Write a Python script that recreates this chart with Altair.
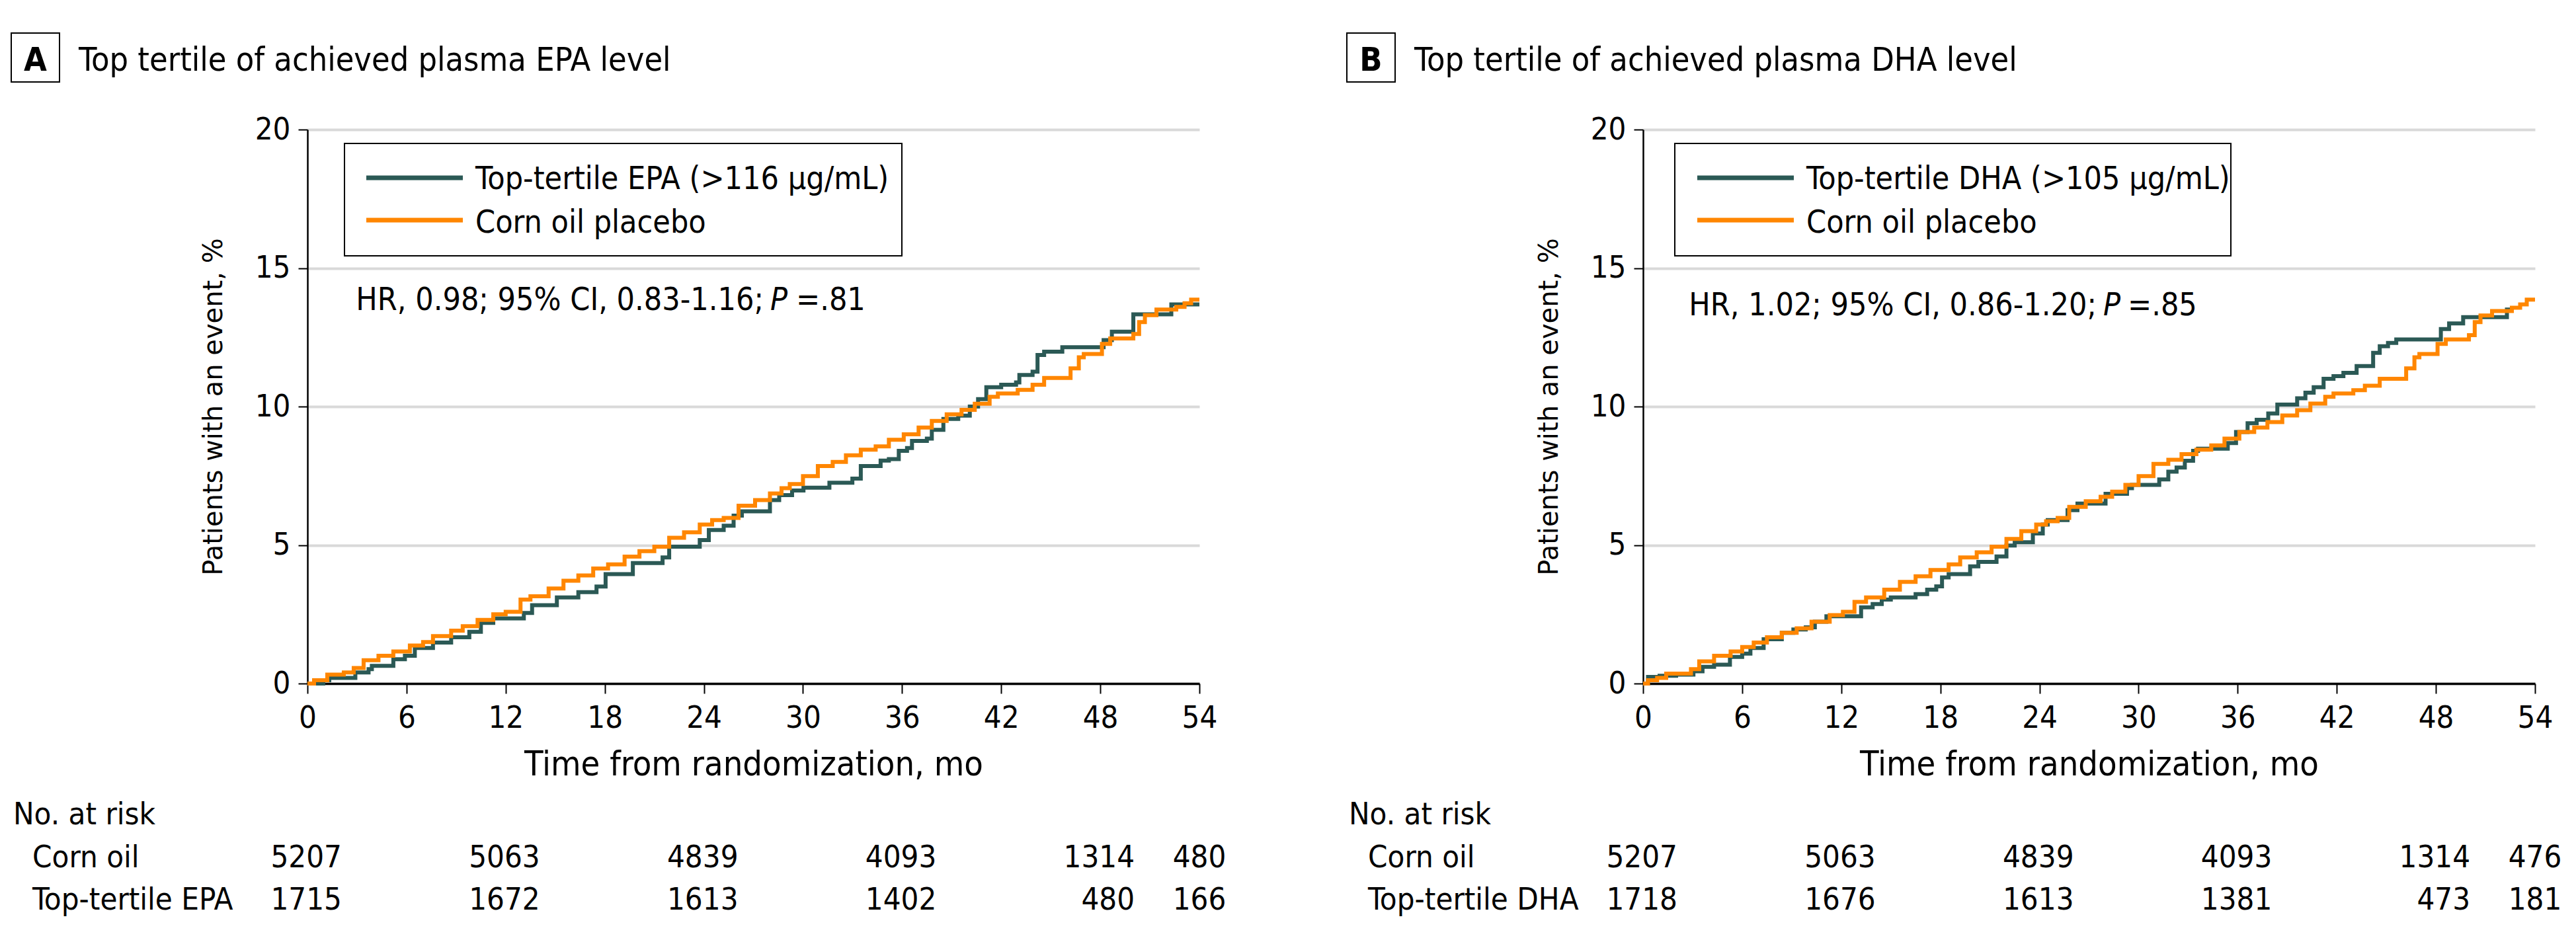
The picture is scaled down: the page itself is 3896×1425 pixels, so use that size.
import altair as alt
import pandas as pd

FONT = "DejaVu Sans Condensed, Liberation Sans Narrow, sans-serif"
YFONT = "DejaVu Sans"
TEAL = "#2B5955"
ORANGE = "#FF8600"
GRID = "#D9D9D9"

X_TICKS = [0, 6, 12, 18, 24, 30, 36, 42, 48, 54]
Y_TICKS = [0, 5, 10, 15, 20]
RISK_MONTHS = [0, 12, 24, 36, 48, 54]

# ---- Panel A: top-tertile EPA vs corn oil ----
TOP_A_MONTH = [0, 0.96, 1.32, 2.9, 3.7, 3.9, 5.2, 5.9, 6.5, 7.6, 8.7, 9.8, 10.5, 11.25, 13.1, 13.6,
               15.1, 16.4, 17.5, 18.05, 19.7, 21.5, 21.9, 23.75, 24.3, 25.2, 25.8, 26.3, 28.0, 28.56,
               29.34, 30.03, 31.6, 32.99, 33.5, 34.7, 35.2, 35.8, 36.3, 36.6, 37.5, 37.8, 38.5, 39.4,
               40.1, 40.6, 41.1, 42.0, 42.9, 43.1, 43.9, 44.2, 44.6, 45.7, 48.2, 48.7, 50.0, 52.3, 54.0]
TOP_A_PCT = [0, 0.12, 0.2, 0.4, 0.52, 0.64, 0.88, 1.0, 1.28, 1.48, 1.67, 1.87, 2.19, 2.35, 2.55, 2.83,
             3.11, 3.3, 3.5, 3.95, 4.35, 4.55, 4.94, 5.18, 5.54, 5.7, 6.06, 6.22, 6.62, 6.8,
             6.97, 7.07, 7.25, 7.4, 7.85, 8.05, 8.1, 8.4, 8.5, 8.76, 8.84, 9.16, 9.55, 9.67,
             10.0, 10.27, 10.7, 10.79, 10.87, 11.14, 11.26, 11.86, 11.98, 12.14, 12.4, 12.7, 13.33, 13.69, 13.69]

CORN_A_MONTH = [0, 0.4, 1.2, 2.2, 2.8, 3.4, 4.3, 5.2, 6.2, 7.0, 7.6, 8.7, 9.4, 10.3, 11.25, 12.0,
                12.9, 13.5, 14.6, 15.5, 16.4, 17.3, 18.2, 19.2, 20.1, 21.0, 21.9, 22.8, 23.75, 24.5,
                25.2, 26.1, 27.1, 28.0, 28.7, 29.2, 30.0, 30.9, 31.8, 32.6, 33.5, 34.4, 35.2, 36.1,
                37.0, 37.8, 38.7, 39.6, 40.4, 41.3, 41.8, 43.0, 43.9, 44.6, 46.2, 46.7, 47.0, 48.1,
                48.6, 50.0, 50.35, 50.7, 51.4, 52.6, 53.1, 53.5, 54.0]
CORN_A_PCT = [0, 0.12, 0.32, 0.4, 0.56, 0.84, 1.0, 1.16, 1.37, 1.5, 1.71, 1.91, 2.07, 2.3, 2.5, 2.59,
              3.03, 3.15, 3.43, 3.71, 3.9, 4.15, 4.3, 4.58, 4.78, 4.94, 5.26, 5.46, 5.74, 5.9,
              5.98, 6.42, 6.62, 6.86, 7.05, 7.2, 7.49, 7.85, 8.0, 8.24, 8.44, 8.56, 8.8, 9.0,
              9.24, 9.48, 9.72, 9.88, 10.1, 10.35, 10.47, 10.6, 10.79, 11.03, 11.38, 11.78, 11.9, 12.26,
              12.46, 12.62, 13.05, 13.3, 13.5, 13.6, 13.73, 13.86, 13.86]

RISK_A_CORN = [5207, 5063, 4839, 4093, 1314, 480]
RISK_A_TOP = [1715, 1672, 1613, 1402, 480, 166]

# ---- Panel B: top-tertile DHA vs corn oil ----
TOP_B_MONTH = [0, 0.3, 1.0, 2.0, 3.05, 3.6, 4.3, 5.26, 6.0, 6.5, 7.3, 8.4, 9.1, 9.85, 10.4, 11.1,
               13.2, 13.9, 14.45, 15.0, 16.5, 17.2, 17.75, 18.1, 18.5, 19.8, 20.3, 21.4, 22.0, 22.5,
               23.6, 24.2, 24.5, 25.7, 26.3, 28.0, 29.3, 29.6, 31.25, 31.8, 32.3, 32.8, 33.3, 33.6,
               35.4, 35.9, 36.6, 37.15, 37.85, 38.4, 39.6, 40.1, 40.6, 41.2, 41.8, 42.4, 43.2, 44.2,
               44.6, 45.1, 45.6, 48.3, 48.8, 49.65, 52.3, 52.5]
TOP_B_PCT = [0, 0.24, 0.28, 0.32, 0.44, 0.6, 0.68, 0.96, 1.08, 1.28, 1.6, 1.83, 1.95, 2.03, 2.23, 2.43,
             2.75, 2.87, 3.03, 3.11, 3.23, 3.39, 3.51, 3.83, 3.95, 4.23, 4.39, 4.59, 4.98, 5.1,
             5.42, 5.74, 5.9, 6.26, 6.5, 6.85, 7.05, 7.17, 7.37, 7.65, 7.8, 8.04, 8.4, 8.48,
             8.68, 9.08, 9.4, 9.52, 9.75, 10.07, 10.3, 10.5, 10.7, 11.0, 11.1, 11.22, 11.46, 11.94,
             12.18, 12.3, 12.42, 12.8, 13.0, 13.23, 13.5, 13.5]

CORN_B_MONTH = [0, 0.3, 0.85, 1.4, 2.9, 3.4, 4.3, 5.3, 6.0, 6.7, 7.5, 8.4, 9.3, 10.2, 11.3, 12.1,
                12.8, 13.5, 14.6, 15.55, 16.5, 17.4, 18.5, 19.2, 20.2, 21.1, 22.0, 22.9, 23.8, 24.4,
                25.1, 25.8, 26.8, 27.7, 28.4, 29.2, 30.0, 30.9, 31.8, 32.6, 33.5, 34.4, 35.2, 36.1,
                37.0, 37.8, 38.7, 39.6, 40.4, 41.3, 41.8, 43.0, 43.7, 44.6, 46.2, 46.7, 47.0, 48.1,
                48.6, 50.0, 50.35, 50.7, 51.4, 52.6, 53.1, 53.5, 54.0]
CORN_B_PCT = [0, 0.12, 0.2, 0.36, 0.52, 0.8, 1.0, 1.16, 1.32, 1.48, 1.67, 1.83, 1.99, 2.23, 2.47, 2.59,
              2.95, 3.11, 3.39, 3.67, 3.87, 4.1, 4.3, 4.55, 4.74, 4.94, 5.22, 5.5, 5.74, 5.86,
              5.98, 6.38, 6.58, 6.74, 6.93, 7.17, 7.49, 7.93, 8.08, 8.28, 8.44, 8.6, 8.84, 9.08,
              9.24, 9.44, 9.68, 9.87, 10.11, 10.35, 10.47, 10.59, 10.75, 11.0, 11.38, 11.78, 11.9, 12.26,
              12.42, 12.58, 13.05, 13.29, 13.45, 13.57, 13.69, 13.86, 13.86]

RISK_B_CORN = [5207, 5063, 4839, 4093, 1314, 476]
RISK_B_TOP = [1718, 1676, 1613, 1381, 473, 181]

W, H = 1349, 838
ONE = pd.DataFrame({"k": [0]})


def txt(text, x, y, size=48, align="left", weight="normal", style="normal", font=FONT):
    return alt.Chart(ONE).mark_text(
        font=font, fontSize=size, fontWeight=weight, fontStyle=style, align=align,
        baseline="alphabetic", color="black"
    ).encode(x=alt.value(x), y=alt.value(y), text=alt.value(text))


def panel(letter, title, top_label, top_m, top_p, corn_m, corn_p, row_name,
          risk_corn, risk_top, hr_main, hr_val, leg_x0, leg_x1, leg_line_x0, leg_text_x,
          hr_y, p_x, eq_x):
    df_top = pd.DataFrame({"month": top_m, "pct": top_p})
    df_corn = pd.DataFrame({"month": corn_m, "pct": corn_p})
    xscale = alt.Scale(domain=[0, 54], nice=False)
    yscale = alt.Scale(domain=[0, 20], nice=False)
    xaxis = alt.Axis(values=X_TICKS, title="Time from randomization, mo", grid=False,
                     domainWidth=3.5, domainColor="black", tickColor="black", tickWidth=2,
                     tickSize=15, labelFont=FONT, labelFontSize=47, labelPadding=14,
                     labelColor="black", labelFlush=False, titleFont=FONT, titleFontSize=52,
                     titleFontWeight="normal", titlePadding=22, titleColor="black")
    yaxis = alt.Axis(values=Y_TICKS, title="Patients with an event, %", grid=True,
                     gridColor=GRID, gridWidth=4, domainWidth=2.5, domainColor="black",
                     tickColor="black", tickWidth=2, tickSize=14, labelFont=FONT,
                     labelFontSize=47, labelPadding=12, labelColor="black",
                     titleFont=YFONT, titleFontSize=40, titleFontWeight="normal",
                     titlePadding=42, titleColor="black")

    top_line = alt.Chart(df_top).mark_line(interpolate="step-after", strokeWidth=6, color=TEAL).encode(
        x=alt.X("month:Q", scale=xscale, axis=xaxis),
        y=alt.Y("pct:Q", scale=yscale, axis=yaxis),
    )
    corn_line = alt.Chart(df_corn).mark_line(interpolate="step-after", strokeWidth=6, color=ORANGE).encode(
        x=alt.X("month:Q", scale=xscale),
        y=alt.Y("pct:Q", scale=yscale, axis=None),
    )

    # number-at-risk table
    rows_scale = alt.Scale(domain=[0, 2], range=[1051, 1180])
    risk_rows = []
    for m, c, t in zip(RISK_MONTHS, risk_corn, risk_top):
        risk_rows.append({"month": m, "n": str(c), "row": 1})
        risk_rows.append({"month": m, "n": str(t), "row": 2})
    df_risk = pd.DataFrame(risk_rows)
    risk_main = alt.Chart(df_risk[df_risk.month < 54]).mark_text(
        font=FONT, fontSize=47, align="right", baseline="alphabetic", dx=52, color="black"
    ).encode(x=alt.X("month:Q", scale=xscale), y=alt.Y("row:Q", scale=rows_scale, axis=None), text="n:N")
    risk_last = alt.Chart(df_risk[df_risk.month == 54]).mark_text(
        font=FONT, fontSize=47, align="center", baseline="alphabetic", color="black"
    ).encode(x=alt.X("month:Q", scale=xscale), y=alt.Y("row:Q", scale=rows_scale, axis=None), text="n:N")
    df_head = pd.DataFrame({"label": ["No. at risk"], "row": [0]})
    df_lab = pd.DataFrame({"label": ["Corn oil", row_name], "row": [1, 2]})
    head = alt.Chart(df_head).mark_text(font=FONT, fontSize=47, align="left", baseline="alphabetic",
                                        color="black").encode(
        x=alt.value(-445), y=alt.Y("row:Q", scale=rows_scale, axis=None), text="label:N")
    labs = alt.Chart(df_lab).mark_text(font=FONT, fontSize=47, align="left", baseline="alphabetic",
                                       color="black").encode(
        x=alt.value(-416), y=alt.Y("row:Q", scale=rows_scale, axis=None), text="label:N")

    # panel title with boxed letter
    box = alt.Chart(ONE).mark_rect(fill="white", stroke="black", strokeWidth=2).encode(
        x=alt.value(-448), x2=alt.value(-375), y=alt.value(-146), y2=alt.value(-72))
    letter_t = txt(letter, -411.5, -89, size=50, align="center", weight="bold")
    title_t = txt(title, -346, -89, size=50)

    # legend
    leg_box = alt.Chart(ONE).mark_rect(fill="white", stroke="black", strokeWidth=2).encode(
        x=alt.value(leg_x0), x2=alt.value(leg_x1), y=alt.value(21), y2=alt.value(191))
    leg_l1 = alt.Chart(ONE).mark_rule(strokeWidth=7, color=TEAL).encode(
        x=alt.value(leg_line_x0), x2=alt.value(leg_line_x0 + 146), y=alt.value(73))
    leg_l2 = alt.Chart(ONE).mark_rule(strokeWidth=7, color=ORANGE).encode(
        x=alt.value(leg_line_x0), x2=alt.value(leg_line_x0 + 146), y=alt.value(137))
    leg_t1 = txt(top_label, leg_text_x, 90, size=48)
    leg_t2 = txt("Corn oil placebo", leg_text_x, 156, size=48)

    # hazard ratio annotation
    hr1 = txt(hr_main, p_x - 10, hr_y, size=48, align="right")
    hr2 = txt("P", p_x, hr_y, size=48, style="italic")
    hr3 = txt("=" + hr_val, eq_x, hr_y, size=48)

    return alt.layer(
        top_line, corn_line, risk_main, risk_last, head, labs,
        box, letter_t, title_t, leg_box, leg_l1, leg_l2, leg_t1, leg_t2, hr1, hr2, hr3
    ).resolve_scale(y="independent").properties(width=W, height=H)


panel_a = panel("A", "Top tertile of achieved plasma EPA level", "Top-tertile EPA (>116 µg/mL)",
                TOP_A_MONTH, TOP_A_PCT, CORN_A_MONTH, CORN_A_PCT, "Top-tertile EPA",
                RISK_A_CORN, RISK_A_TOP, "HR, 0.98; 95% CI, 0.83-1.16;", ".81",
                56, 899, 89, 254, 273, 700, 739)
panel_b = panel("B", "Top tertile of achieved plasma DHA level", "Top-tertile DHA (>105 µg/mL)",
                TOP_B_MONTH, TOP_B_PCT, CORN_B_MONTH, CORN_B_PCT, "Top-tertile DHA",
                RISK_B_CORN, RISK_B_TOP, "HR, 1.02; 95% CI, 0.86-1.20;", ".85",
                48, 889, 82, 247, 281, 696, 733)

chart = alt.hconcat(panel_a, panel_b, spacing=181).properties(
    padding={"left": 8, "top": 41, "right": 5, "bottom": 5},
    background="white",
).configure_view(stroke=None)

chart.save("out.html", embed_options={"renderer": "svg", "actions": False})
